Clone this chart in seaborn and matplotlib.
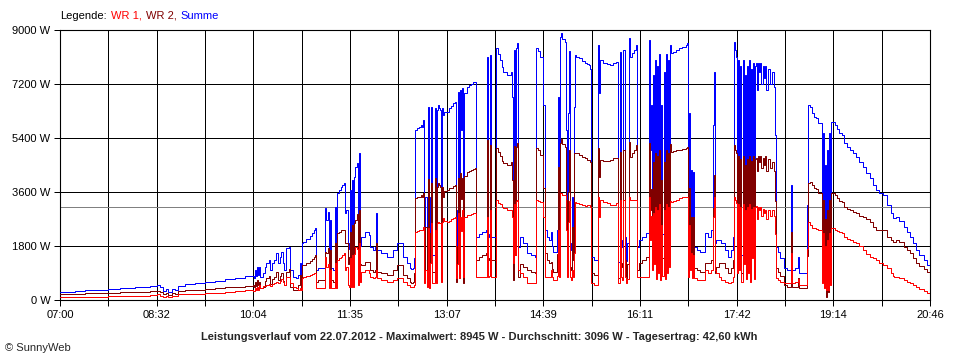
import numpy as np
import pandas as pd
import seaborn as sns
import matplotlib.pyplot as plt

# readings, minutes after 07:00
minutes = [
    0, 14, 24, 33, 46, 57, 71, 85, 92, 95, 98, 101, 103, 106, 109, 112, 119, 128, 138, 147, 157, 166, 176, 182,
    183, 184, 185, 186, 187, 188, 189, 190, 193, 195, 196, 198,
    199, 201, 203, 205, 207, 209, 210, 212, 213, 215, 217, 218,
    221, 224, 226, 228, 229, 230, 231, 234, 237, 239, 241, 242,
    243, 245, 248, 251, 252, 253, 254, 255, 256, 257, 259, 261,
    262, 263, 265, 267, 268, 270, 271, 272, 273, 274, 275, 276,
    277, 278, 279, 280, 282, 283, 284, 285, 286, 290, 293, 294,
    297, 299, 300, 301, 305, 310, 316, 320, 322, 326, 329, 332,
    333, 335, 336, 337, 339, 341, 343, 344, 345, 346, 347, 348,
    349, 350, 351, 352, 353, 355, 356, 357, 358, 359, 360, 361,
    362, 363, 364, 365, 367, 369, 371, 373, 375, 376, 377, 378,
    379, 380, 381, 382, 383, 384, 386, 388, 390, 392, 394, 395,
    398, 401, 404, 405, 406, 407, 408, 409, 412, 413, 414, 416,
    418, 420, 421, 424, 427, 428, 429, 430, 431, 432, 433, 434,
    435, 437, 440, 443, 447, 451, 452, 454, 456,
    457, 458, 459, 460, 462, 464, 466, 467, 468, 470, 472, 473,
    474, 475, 476, 477, 479, 480, 481, 482, 483, 484, 485, 486,
    487, 488, 489, 490, 493, 496, 498, 500, 502, 503, 504, 507,
    510, 511, 512, 513, 516, 519, 522, 525, 528, 529, 530, 531,
    532, 533, 534, 535, 536, 537, 538, 540, 541, 543, 545, 547,
    548, 550, 553, 556, 558, 559, 560, 561, 562, 563, 564, 565,
    566, 567, 568, 569, 570, 571, 572, 573, 574, 575, 576, 577,
    578, 579,
    580, 582, 585, 588, 591, 594, 595, 596, 597, 598, 599, 600,
    601, 602, 605, 608, 611, 612, 615, 618, 620, 621, 622, 623,
    626, 628, 631, 634, 637, 639, 640, 641, 642, 643, 644, 645,
    646, 647, 648, 649, 650, 651, 652, 653, 654, 655, 656, 657,
    658, 659, 660, 661, 662, 663, 664, 665, 666, 667, 668, 669,
    670, 672, 674, 676, 678, 679, 680, 682, 684, 687,
    690, 693, 694, 695, 698, 700, 701, 702, 705, 708, 709, 710,
    712, 714, 716, 718, 720, 722, 723, 724, 725, 726, 727, 728,
    729, 730, 731, 732, 734, 736, 738, 740, 742, 744, 747, 750,
    753, 756, 759, 762, 765, 769, 772, 775, 778, 781, 785, 789,
    791, 792, 794, 797, 801, 804, 807, 810, 813, 816, 820, 823,
    826,
]

# total of both inverters (W)
summe = [
    277, 290, 320, 340, 367, 390, 420, 470, 500, 420, 300, 360, 280, 380, 330, 480, 533, 560, 611, 650, 700, 740, 790, 811,
    800, 723, 1000, 800, 1111, 850, 1111, 780, 889, 1100, 1222, 1333,
    1000, 1222, 1333, 1556, 1222, 1444, 1611, 1222, 1000, 1723, 1778, 1000,
    778, 723, 834, 1222, 723, 1890, 1945, 2050, 2150, 2223, 2334, 2390,
    1000, 1056, 1056, 1056, 3056, 2667, 2945, 1000, 2667, 1056, 1000, 3112,
    1000, 3556, 3667, 3778, 3834, 3889, 2890, 3001, 1700, 1890, 3667, 1667,
    4000, 1667, 4112, 4445, 4556, 1800, 4889, 1800, 2112, 2278, 2168, 1778,
    1667, 1778, 2912, 1667, 1556, 1444, 1667, 1890, 1890, 1444, 1222, 1056,
    1022, 1056, 1400, 5667, 5720, 5780, 5830, 5780, 6000, 1444, 3444, 1444,
    6444, 1444, 3444, 6444, 1500, 1500, 6389, 1556, 6333, 6500, 6400, 6333,
    1890, 6389, 6170, 6280, 6280, 6390, 6450, 6550, 6611, 1333, 3000, 6944,
    1444, 7000, 5667, 7056, 1333, 6900, 7111, 7150, 7200, 7250, 7278, 2112,
    2200, 2280, 2334, 8111, 2112, 2200, 8167, 2112, 2112, 2112, 8389, 8200,
    8000, 7750, 7611, 7500, 7500, 7611, 6778, 1890, 8333, 3000, 8400, 8556,
    1778, 2112, 1890, 1556, 1500, 1444, 8389, 8300, 8111,
    8111, 8111, 6500, 2334, 2112, 2001, 2278, 1800, 1611, 1611, 2334, 6778,
    1890, 8778, 8911, 8700, 8600, 5667, 2223, 6222, 8300, 1890, 1667, 3444,
    2112, 6444, 8167, 8111, 8050, 7950, 7900, 7850, 7833, 7700, 1444, 1333,
    1333, 8500, 6889, 8000, 7900, 7850, 7833, 7900, 7944, 7944, 1278, 1278,
    8278, 2000, 1778, 8333, 2112, 1300, 1890, 8722, 8111, 8222, 8333, 8500,
    1778, 2001, 2112, 2223, 2223, 8667, 5000, 6500, 2500, 7500, 3000, 8000,
    1700, 7800, 2500, 8200, 1778, 6500, 2200, 7600, 1900, 8200, 2500, 8000,
    3000, 8500,
    8222, 8278, 8333, 8389, 8444, 8500, 8556, 1890, 6222, 2334, 4333, 1667,
    4278, 1778, 1667, 1611, 1611, 2223, 2112, 2334, 5833, 7611, 1890, 2001,
    2000, 1890, 1667, 1444, 1667, 2112, 8611, 8333, 8111, 2000, 8000, 2500,
    7800, 1500, 8000, 3000, 7500, 1800, 7800, 2500, 8000, 1500, 7700, 3500,
    7900, 1800, 7800, 7900, 7000, 7900, 7600, 7900, 7200, 7800, 7400, 7800,
    7000, 7700, 7200, 7600, 7100, 5500, 1778, 1600, 1400, 1056,
    1000, 1000, 3834, 1000, 1056, 1056, 1445, 889, 889, 889, 3167, 6500,
    6444, 6222, 6111, 6050, 5889, 5889, 1334, 5556, 1000, 4500, 445, 5000,
    600, 5556, 1200, 5944, 5944, 5833, 5700, 5556, 5500, 5222, 5100, 5000,
    4900, 4778, 4600, 4444, 4250, 4056, 3850, 3667, 3580, 3500, 3167, 2889,
    2722, 2722, 2778, 2650, 2445, 2280, 2111, 1900, 1667, 1500, 1334, 1180,
    1023,
]

# inverter WR 1 (W)
wr1 = [
    89, 95, 100, 110, 122, 135, 150, 180, 189, 150, 110, 120, 100, 140, 120, 190, 200, 210, 233, 250, 270, 290, 320, 330,
    311, 300, 390, 330, 450, 350, 500, 390, 467, 480, 500, 520,
    470, 534, 560, 612, 560, 650, 700, 600, 500, 778, 760, 556,
    450, 390, 350, 400, 334, 723, 778, 800, 850, 870, 890, 890,
    390, 390, 390, 400, 1445, 1100, 1200, 400, 1000, 400, 390, 1223,
    400, 1334, 1390, 1450, 1500, 1556, 1001, 1100, 500, 445, 1390, 445,
    1500, 445, 1550, 1778, 1700, 500, 1890, 600, 945, 1001, 900, 778,
    723, 778, 1000, 723, 667, 612, 667, 723, 723, 600, 500, 445,
    445, 445, 500, 2278, 2300, 2334, 2334, 2334, 2445, 556, 1001, 445,
    2400, 390, 1223, 2556, 556, 556, 2334, 556, 2556, 2612, 2556, 2556,
    600, 2612, 2723, 2650, 2612, 2650, 2700, 2750, 2778, 723, 1200, 2890,
    723, 2778, 2300, 3001, 778, 2778, 2834, 2834, 2860, 2890, 2890, 778,
    778, 778, 778, 2778, 778, 800, 3001, 778, 778, 778, 3334, 3250,
    3200, 3100, 3056, 3001, 3001, 3001, 2778, 1223, 3200, 1500, 3300, 3334,
    1001, 900, 778, 556, 556, 556, 3334, 3300, 3278,
    3278, 3278, 2778, 778, 778, 778, 1001, 778, 667, 667, 800, 2334,
    778, 3556, 3556, 3500, 3500, 2334, 778, 2612, 3300, 778, 667, 1001,
    778, 1556, 3278, 3223, 3200, 3167, 3150, 3167, 3167, 3100, 556, 500,
    500, 3444, 2778, 3334, 3278, 3223, 3167, 3167, 3223, 3223, 556, 556,
    3334, 778, 667, 3334, 778, 556, 700, 3444, 3334, 3334, 3334, 3334,
    778, 778, 778, 778, 778, 3444, 2000, 2800, 1000, 2900, 1200, 3100,
    700, 3000, 900, 3200, 667, 2500, 800, 3000, 700, 3200, 900, 3100,
    1100, 3300,
    3278, 3300, 3334, 3390, 3420, 3444, 3444, 778, 2500, 1000, 1556, 723,
    1500, 723, 667, 667, 667, 1001, 889, 1001, 2778, 3445, 1001, 890,
    778, 667, 600, 556, 600, 778, 3445, 3334, 3223, 900, 3200, 1000,
    3100, 600, 3200, 1200, 3000, 700, 3100, 900, 3200, 600, 3050, 1400,
    3100, 700, 3100, 3150, 2700, 3100, 3000, 3100, 2800, 3050, 2900, 3000,
    2700, 3000, 2800, 3000, 2800, 2200, 722, 667, 611, 556,
    556, 556, 1556, 556, 611, 611, 700, 500, 500, 500, 1700, 2611,
    2500, 2389, 2389, 2360, 2334, 2334, 556, 2222, 400, 1800, 334, 2000,
    334, 2222, 500, 2389, 2389, 2334, 2300, 2260, 2222, 2111, 2050, 2000,
    1950, 1889, 1800, 1667, 1550, 1445, 1400, 1334, 1250, 1167, 1056, 889,
    800, 778, 778, 720, 667, 610, 556, 500, 444, 380, 311, 230,
    156,
]

durchschnitt = 3096
x_labels = ["07:00", "", "08:32", "", "10:04", "", "11:35", "", "13:07", "",
            "14:39", "", "16:11", "", "17:42", "", "19:14", "", "20:46"]
y_values = [0, 1800, 3600, 5400, 7200, 9000]
title = ("Leistungsverlauf vom 22.07.2012 - Maximalwert: 8945 W - "
         "Durchschnitt: 3096 W - Tagesertrag: 42,60 kWh")
legend_parts = [("Legende:", "black"), ("WR 1,", "#ff0000"),
                ("WR 2,", "#800000"), ("Summe", "#0000ff")]

df = pd.DataFrame({"minute": minutes, "Summe": summe, "WR 1": wr1})
# WR 2 is whatever the total has on top of WR 1
df["WR 2"] = df["Summe"] - df["WR 1"]

sns.set_style("white")
plt.rcParams["font.family"] = ["Liberation Sans", "DejaVu Sans"]
plt.rcParams["font.size"] = 8

fig = plt.figure(figsize=(9.6, 3.6), dpi=100)
ax = fig.add_axes([60 / 960, 60 / 360, 870 / 960, 270 / 360])

colors = {"Summe": "#0000ff", "WR 2": "#800000", "WR 1": "#ff0000"}
for name in ["Summe", "WR 2", "WR 1"]:
    sns.lineplot(data=df, x="minute", y=name, ax=ax, color=colors[name],
                 linewidth=0.72, drawstyle="steps-post", errorbar=None,
                 legend=False, zorder=3)

ax.axhline(durchschnitt, color="#808080", linewidth=0.72, zorder=2)

ax.set_xlim(0, 826)
ax.set_ylim(0, 9000)
ax.set_xticks(np.linspace(0, 826, len(x_labels)))
ax.set_xticklabels(x_labels)
ax.set_yticks(y_values)
ax.set_yticklabels([f"{v} W" for v in y_values])
ax.set_xlabel("")
ax.set_ylabel("")
ax.grid(True, color="black", linewidth=0.72)
ax.set_axisbelow(True)
ax.tick_params(bottom=True, left=True, direction="out", length=4,
               width=0.72, color="black", labelsize=8, pad=3,
               labelcolor="black")
for spine in ax.spines.values():
    spine.set_color("black")
    spine.set_linewidth(0.8)

fig.text(0.499, 1 - 337 / 360, title, ha="center", va="center",
         fontsize=8, fontweight="bold")
fig.text(5 / 960, 1 - 348 / 360, "\u00a9 SunnyWeb", ha="left", va="center",
         fontsize=8)

fig.canvas.draw()
renderer = fig.canvas.get_renderer()
x_px = 60
for text, color in legend_parts:
    t = fig.text(x_px / 960, 1 - 16 / 360, text, color=color, ha="left",
                 va="center", fontsize=8)
    x_px += t.get_window_extent(renderer).width + 4

fig.savefig("out.png", dpi=100, facecolor="white")
